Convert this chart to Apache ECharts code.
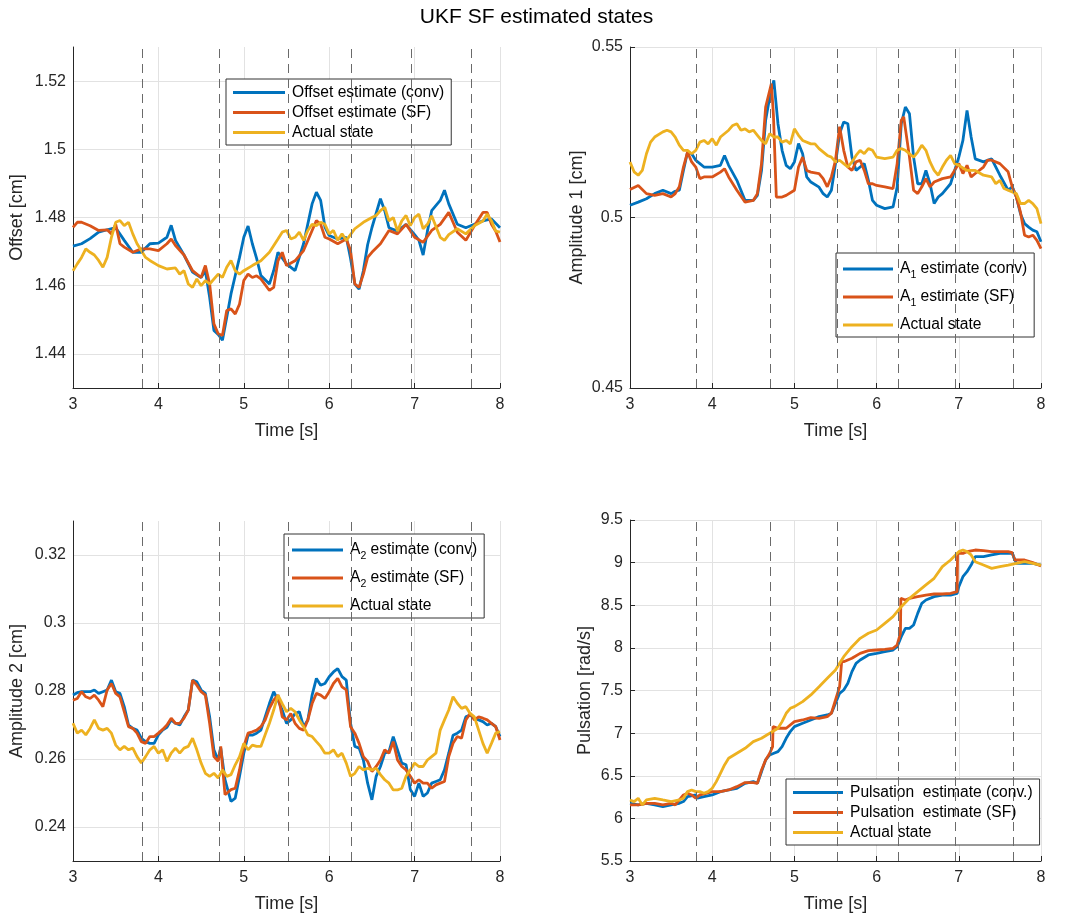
<!DOCTYPE html>
<html>
<head>
<meta charset="utf-8">
<title>UKF SF estimated states</title>
<script src="https://cdn.jsdelivr.net/npm/echarts@6/dist/echarts.min.js"></script>
<style>
  html, body { margin: 0; padding: 0; background: #ffffff; }
  #chart { width: 1073px; height: 920px; }
</style>
</head>
<body>
<div id="chart"></div>
<script>
// ---- time axis --------------------------------------------------------
const timeTicks = [3, 4, 5, 6, 7, 8];
// instants where the switching filter changes model (dashed markers)
const switchTimes = [3.81, 4.705, 5.52, 6.26, 6.96, 7.66];

// ---- Offset [cm] ------------------------------------------------------
const offsetConv = [[3.0,1.4716],[3.1,1.4723],[3.2,1.4738],[3.3,1.4757],[3.4,1.4764],[3.5,1.4770],[3.6,1.4733],[3.7,1.4698],[3.8,1.4698],[3.9,1.4723],[4.0,1.4725],[4.1,1.4742],[4.15,1.4777],[4.2,1.4733],[4.3,1.4690],[4.4,1.4640],[4.5,1.4624],[4.55,1.4644],[4.6,1.4566],[4.65,1.4469],[4.7,1.4457],[4.75,1.4440],[4.8,1.4507],[4.85,1.4576],[4.9,1.4630],[4.95,1.4683],[5.0,1.4742],[5.05,1.4775],[5.1,1.4723],[5.15,1.4680],[5.2,1.4630],[5.3,1.4605],[5.35,1.4644],[5.4,1.4698],[5.5,1.4664],[5.6,1.4644],[5.7,1.4723],[5.8,1.4840],[5.85,1.4874],[5.9,1.4850],[5.95,1.4772],[6.0,1.4747],[6.1,1.4737],[6.2,1.4742],[6.25,1.4680],[6.3,1.4605],[6.35,1.4590],[6.4,1.4644],[6.45,1.4720],[6.5,1.4770],[6.6,1.4855],[6.65,1.4820],[6.7,1.4770],[6.8,1.4760],[6.9,1.4780],[7.0,1.4750],[7.05,1.4734],[7.1,1.4690],[7.15,1.4760],[7.2,1.4820],[7.3,1.4850],[7.35,1.4880],[7.4,1.4840],[7.5,1.4780],[7.6,1.4770],[7.7,1.4780],[7.8,1.4790],[7.9,1.4796],[8.0,1.4770]];
const offsetSF = [[3.0,1.4771],[3.05,1.4786],[3.1,1.4786],[3.2,1.4776],[3.3,1.4762],[3.4,1.4764],[3.45,1.4752],[3.5,1.4780],[3.55,1.4723],[3.6,1.4713],[3.7,1.4698],[3.8,1.4708],[3.9,1.4708],[4.0,1.4703],[4.1,1.4723],[4.15,1.4737],[4.2,1.4718],[4.3,1.4690],[4.4,1.4644],[4.5,1.4624],[4.55,1.4659],[4.6,1.4605],[4.65,1.4488],[4.7,1.4459],[4.75,1.4454],[4.8,1.4527],[4.85,1.4532],[4.9,1.4517],[4.95,1.4546],[5.0,1.4615],[5.05,1.4634],[5.1,1.4624],[5.15,1.4629],[5.2,1.4620],[5.3,1.4586],[5.35,1.4595],[5.4,1.4673],[5.45,1.4698],[5.5,1.4659],[5.6,1.4673],[5.7,1.4703],[5.8,1.4762],[5.85,1.4791],[5.9,1.4780],[5.95,1.4742],[6.0,1.4737],[6.1,1.4723],[6.2,1.4737],[6.25,1.4703],[6.3,1.4605],[6.35,1.4595],[6.4,1.4634],[6.45,1.4683],[6.5,1.4698],[6.6,1.4723],[6.7,1.4762],[6.8,1.4752],[6.9,1.4780],[7.0,1.4742],[7.1,1.4727],[7.2,1.4762],[7.3,1.4780],[7.4,1.4815],[7.45,1.4786],[7.5,1.4757],[7.6,1.4733],[7.7,1.4776],[7.8,1.4815],[7.85,1.4815],[7.9,1.4780],[7.95,1.4760],[8.0,1.4728]];
const offsetActual = [[3.0,1.4644],[3.05,1.4664],[3.1,1.4683],[3.15,1.4708],[3.2,1.4698],[3.25,1.4690],[3.3,1.4674],[3.35,1.4654],[3.4,1.4683],[3.45,1.4742],[3.5,1.4786],[3.55,1.4791],[3.6,1.4776],[3.65,1.4786],[3.7,1.4752],[3.75,1.4723],[3.8,1.4703],[3.85,1.4683],[3.9,1.4674],[4.0,1.4659],[4.1,1.4649],[4.2,1.4652],[4.25,1.4634],[4.3,1.4644],[4.35,1.4605],[4.4,1.4595],[4.45,1.4620],[4.5,1.4600],[4.55,1.4615],[4.6,1.4605],[4.7,1.4634],[4.75,1.4624],[4.8,1.4654],[4.85,1.4674],[4.9,1.4644],[4.95,1.4634],[5.0,1.4644],[5.1,1.4659],[5.2,1.4673],[5.3,1.4698],[5.4,1.4737],[5.45,1.4757],[5.5,1.4762],[5.55,1.4737],[5.6,1.4742],[5.65,1.4757],[5.7,1.4733],[5.75,1.4762],[5.8,1.4780],[5.85,1.4776],[5.9,1.4786],[5.95,1.4780],[6.0,1.4752],[6.05,1.4762],[6.1,1.4733],[6.15,1.4752],[6.2,1.4733],[6.3,1.4767],[6.4,1.4786],[6.5,1.4800],[6.55,1.4806],[6.6,1.4820],[6.65,1.4830],[6.7,1.4790],[6.75,1.4800],[6.8,1.4760],[6.85,1.4790],[6.9,1.4806],[6.95,1.4776],[7.0,1.4800],[7.05,1.4810],[7.1,1.4767],[7.15,1.4780],[7.2,1.4805],[7.3,1.4742],[7.35,1.4733],[7.4,1.4750],[7.5,1.4767],[7.6,1.4752],[7.7,1.4776],[7.8,1.4790],[7.85,1.4810],[7.9,1.4790],[7.95,1.4760],[8.0,1.4757]];

// ---- Amplitude 1 [cm] -------------------------------------------------
const amp1Conv = [[3.0,0.5036],[3.1,0.5045],[3.2,0.5055],[3.3,0.5070],[3.4,0.5080],[3.5,0.5070],[3.55,0.5077],[3.6,0.5080],[3.65,0.5138],[3.7,0.5192],[3.75,0.5187],[3.8,0.5168],[3.85,0.5158],[3.9,0.5148],[4.0,0.5148],[4.1,0.5153],[4.15,0.5182],[4.2,0.5153],[4.3,0.5109],[4.4,0.5050],[4.5,0.5050],[4.55,0.5065],[4.6,0.5138],[4.65,0.5285],[4.7,0.5353],[4.75,0.5402],[4.8,0.5275],[4.85,0.5197],[4.9,0.5153],[4.95,0.5143],[5.0,0.5163],[5.05,0.5217],[5.1,0.5187],[5.15,0.5119],[5.2,0.5104],[5.3,0.5089],[5.35,0.5070],[5.4,0.5060],[5.45,0.5080],[5.5,0.5158],[5.55,0.5246],[5.6,0.5280],[5.65,0.5275],[5.7,0.5177],[5.75,0.5138],[5.8,0.5148],[5.85,0.5158],[5.9,0.5109],[5.95,0.5050],[6.0,0.5036],[6.1,0.5026],[6.2,0.5031],[6.25,0.5089],[6.3,0.5275],[6.35,0.5324],[6.4,0.5304],[6.45,0.5177],[6.5,0.5099],[6.55,0.5099],[6.6,0.5138],[6.65,0.5099],[6.7,0.5041],[6.75,0.5060],[6.8,0.5070],[6.9,0.5099],[7.0,0.5177],[7.05,0.5226],[7.1,0.5314],[7.15,0.5236],[7.2,0.5172],[7.3,0.5163],[7.4,0.5172],[7.5,0.5124],[7.6,0.5080],[7.65,0.5090],[7.7,0.5060],[7.75,0.5011],[7.8,0.4982],[7.85,0.4972],[7.9,0.4963],[7.95,0.4958],[8.0,0.4929]];
const amp1SF = [[3.0,0.5082],[3.1,0.5094],[3.2,0.5070],[3.3,0.5065],[3.4,0.5070],[3.5,0.5060],[3.55,0.5070],[3.6,0.5090],[3.65,0.5148],[3.7,0.5192],[3.75,0.5163],[3.8,0.5148],[3.85,0.5114],[3.9,0.5119],[4.0,0.5119],[4.1,0.5133],[4.15,0.5143],[4.2,0.5119],[4.3,0.5080],[4.4,0.5045],[4.5,0.5050],[4.55,0.5070],[4.6,0.5158],[4.65,0.5324],[4.7,0.5373],[4.72,0.5393],[4.745,0.5300],[4.78,0.5060],[4.85,0.5060],[4.9,0.5065],[5.0,0.5080],[5.05,0.5148],[5.1,0.5177],[5.15,0.5138],[5.2,0.5133],[5.3,0.5129],[5.35,0.5114],[5.4,0.5090],[5.45,0.5119],[5.5,0.5168],[5.55,0.5266],[5.6,0.5197],[5.65,0.5148],[5.7,0.5138],[5.75,0.5163],[5.8,0.5168],[5.85,0.5138],[5.9,0.5099],[5.95,0.5099],[6.0,0.5094],[6.1,0.5090],[6.2,0.5085],[6.25,0.5158],[6.3,0.5285],[6.33,0.5295],[6.4,0.5177],[6.45,0.5080],[6.5,0.5070],[6.55,0.5090],[6.6,0.5114],[6.65,0.5090],[6.7,0.5104],[6.8,0.5114],[6.9,0.5119],[7.0,0.5158],[7.05,0.5129],[7.1,0.5153],[7.15,0.5119],[7.2,0.5129],[7.3,0.5148],[7.35,0.5168],[7.4,0.5168],[7.5,0.5158],[7.6,0.5134],[7.65,0.5090],[7.7,0.5060],[7.75,0.5016],[7.8,0.4948],[7.85,0.4943],[7.9,0.4948],[7.95,0.4933],[8.0,0.4909]];
const amp1Actual = [[3.0,0.5163],[3.05,0.5134],[3.1,0.5124],[3.15,0.5138],[3.2,0.5187],[3.25,0.5221],[3.3,0.5236],[3.4,0.5251],[3.45,0.5256],[3.5,0.5251],[3.55,0.5236],[3.6,0.5212],[3.65,0.5197],[3.7,0.5197],[3.75,0.5187],[3.8,0.5197],[3.85,0.5221],[3.9,0.5226],[3.95,0.5216],[4.0,0.5231],[4.05,0.5212],[4.1,0.5236],[4.2,0.5256],[4.25,0.5270],[4.3,0.5275],[4.35,0.5256],[4.4,0.5260],[4.45,0.5251],[4.5,0.5256],[4.55,0.5241],[4.6,0.5226],[4.65,0.5216],[4.7,0.5246],[4.75,0.5236],[4.8,0.5236],[4.85,0.5221],[4.9,0.5226],[4.95,0.5216],[5.0,0.5260],[5.05,0.5241],[5.1,0.5226],[5.2,0.5216],[5.25,0.5216],[5.3,0.5202],[5.4,0.5182],[5.45,0.5177],[5.5,0.5163],[5.55,0.5168],[5.6,0.5158],[5.65,0.5148],[5.7,0.5163],[5.75,0.5182],[5.8,0.5197],[5.85,0.5187],[5.9,0.5202],[5.95,0.5197],[6.0,0.5177],[6.1,0.5173],[6.2,0.5177],[6.25,0.5197],[6.3,0.5202],[6.35,0.5197],[6.4,0.5187],[6.45,0.5177],[6.5,0.5192],[6.55,0.5212],[6.6,0.5197],[6.65,0.5163],[6.7,0.5138],[6.75,0.5124],[6.8,0.5148],[6.85,0.5168],[6.9,0.5182],[6.95,0.5158],[7.0,0.5153],[7.1,0.5138],[7.2,0.5138],[7.3,0.5124],[7.4,0.5119],[7.45,0.5099],[7.5,0.5109],[7.55,0.5085],[7.6,0.5080],[7.7,0.5070],[7.75,0.5041],[7.8,0.5041],[7.85,0.5050],[7.9,0.5041],[7.95,0.5026],[8.0,0.4982]];

// ---- Amplitude 2 [cm] -------------------------------------------------
const amp2Conv = [[3.0,0.2788],[3.05,0.2795],[3.1,0.2798],[3.2,0.2798],[3.25,0.2803],[3.3,0.2793],[3.35,0.2798],[3.4,0.2803],[3.45,0.2832],[3.5,0.2798],[3.55,0.2793],[3.6,0.2754],[3.65,0.2700],[3.7,0.2690],[3.75,0.2685],[3.8,0.2661],[3.85,0.2651],[3.9,0.2646],[3.95,0.2646],[4.0,0.2671],[4.05,0.2685],[4.1,0.2693],[4.15,0.2715],[4.2,0.2705],[4.25,0.2700],[4.3,0.2724],[4.35,0.2744],[4.4,0.2832],[4.45,0.2827],[4.5,0.2803],[4.55,0.2793],[4.6,0.2724],[4.65,0.2627],[4.7,0.2597],[4.73,0.2632],[4.78,0.2539],[4.85,0.2475],[4.9,0.2485],[4.95,0.2549],[5.0,0.2617],[5.05,0.2670],[5.1,0.2670],[5.15,0.2676],[5.2,0.2685],[5.25,0.2724],[5.3,0.2763],[5.35,0.2798],[5.4,0.2773],[5.45,0.2744],[5.5,0.2705],[5.55,0.2715],[5.6,0.2734],[5.65,0.2739],[5.7,0.2695],[5.75,0.2715],[5.8,0.2788],[5.85,0.2837],[5.9,0.2817],[5.95,0.2822],[6.0,0.2842],[6.05,0.2856],[6.1,0.2866],[6.15,0.2842],[6.2,0.2832],[6.25,0.2705],[6.3,0.2637],[6.35,0.2632],[6.4,0.2597],[6.45,0.2529],[6.5,0.2480],[6.55,0.2549],[6.6,0.2578],[6.65,0.2617],[6.7,0.2622],[6.75,0.2666],[6.8,0.2627],[6.85,0.2588],[6.9,0.2583],[6.95,0.2510],[7.0,0.2490],[7.05,0.2529],[7.1,0.2490],[7.15,0.2500],[7.2,0.2529],[7.25,0.2534],[7.3,0.2539],[7.35,0.2568],[7.4,0.2617],[7.45,0.2670],[7.5,0.2676],[7.55,0.2685],[7.6,0.2724],[7.65,0.2729],[7.7,0.2720],[7.75,0.2715],[7.8,0.2710],[7.85,0.2700],[7.9,0.2705],[7.95,0.2695],[8.0,0.2666]];
const amp2SF = [[3.0,0.2773],[3.05,0.2778],[3.1,0.2798],[3.15,0.2783],[3.2,0.2778],[3.25,0.2788],[3.3,0.2773],[3.35,0.2754],[3.4,0.2803],[3.45,0.2822],[3.5,0.2793],[3.55,0.2783],[3.6,0.2739],[3.65,0.2695],[3.7,0.2690],[3.75,0.2676],[3.8,0.2651],[3.85,0.2646],[3.9,0.2666],[3.95,0.2666],[4.0,0.2676],[4.05,0.2687],[4.1,0.2700],[4.15,0.2720],[4.2,0.2705],[4.25,0.2705],[4.3,0.2720],[4.35,0.2744],[4.4,0.2832],[4.45,0.2817],[4.5,0.2798],[4.55,0.2788],[4.6,0.2705],[4.65,0.2607],[4.7,0.2593],[4.73,0.2637],[4.78,0.2495],[4.85,0.2510],[4.9,0.2514],[4.95,0.2568],[5.0,0.2637],[5.05,0.2676],[5.1,0.2680],[5.15,0.2685],[5.2,0.2695],[5.25,0.2715],[5.3,0.2749],[5.35,0.2773],[5.4,0.2788],[5.45,0.2724],[5.5,0.2715],[5.55,0.2734],[5.6,0.2705],[5.65,0.2690],[5.7,0.2685],[5.75,0.2715],[5.8,0.2763],[5.85,0.2793],[5.9,0.2788],[5.95,0.2778],[6.0,0.2798],[6.05,0.2822],[6.1,0.2837],[6.15,0.2812],[6.2,0.2803],[6.25,0.2695],[6.3,0.2676],[6.35,0.2646],[6.4,0.2607],[6.45,0.2593],[6.5,0.2563],[6.55,0.2578],[6.6,0.2597],[6.65,0.2627],[6.7,0.2617],[6.75,0.2651],[6.8,0.2597],[6.85,0.2578],[6.9,0.2568],[6.95,0.2549],[7.0,0.2529],[7.05,0.2539],[7.1,0.2529],[7.15,0.2529],[7.2,0.2514],[7.25,0.2524],[7.3,0.2529],[7.35,0.2534],[7.4,0.2607],[7.45,0.2646],[7.5,0.2666],[7.55,0.2661],[7.6,0.2715],[7.65,0.2734],[7.7,0.2715],[7.75,0.2724],[7.8,0.2720],[7.85,0.2715],[7.9,0.2705],[7.95,0.2695],[8.0,0.2656]];
const amp2Actual = [[3.0,0.2705],[3.05,0.2676],[3.1,0.2685],[3.15,0.2671],[3.2,0.2690],[3.25,0.2715],[3.3,0.2690],[3.35,0.2685],[3.4,0.2690],[3.45,0.2676],[3.5,0.2641],[3.55,0.2627],[3.6,0.2637],[3.65,0.2627],[3.7,0.2632],[3.75,0.2607],[3.8,0.2588],[3.85,0.2607],[3.9,0.2627],[3.95,0.2637],[4.0,0.2617],[4.05,0.2627],[4.1,0.2593],[4.15,0.2617],[4.2,0.2632],[4.25,0.2617],[4.3,0.2632],[4.35,0.2637],[4.4,0.2661],[4.45,0.2627],[4.5,0.2588],[4.55,0.2558],[4.6,0.2549],[4.65,0.2558],[4.7,0.2544],[4.75,0.2568],[4.8,0.2549],[4.85,0.2554],[4.9,0.2583],[4.95,0.2607],[5.0,0.2646],[5.05,0.2627],[5.1,0.2641],[5.15,0.2637],[5.2,0.2637],[5.25,0.2671],[5.3,0.2705],[5.35,0.2744],[5.4,0.2788],[5.45,0.2763],[5.5,0.2739],[5.55,0.2749],[5.6,0.2739],[5.65,0.2715],[5.7,0.2695],[5.75,0.2671],[5.8,0.2666],[5.85,0.2651],[5.9,0.2637],[5.95,0.2617],[6.0,0.2617],[6.05,0.2627],[6.1,0.2607],[6.15,0.2617],[6.2,0.2588],[6.25,0.2549],[6.3,0.2558],[6.35,0.2578],[6.4,0.2568],[6.45,0.2573],[6.5,0.2568],[6.55,0.2573],[6.6,0.2554],[6.65,0.2539],[6.7,0.2529],[6.75,0.2509],[6.8,0.2509],[6.85,0.2514],[6.9,0.2549],[6.95,0.2568],[7.0,0.2588],[7.05,0.2578],[7.1,0.2578],[7.15,0.2597],[7.2,0.2607],[7.25,0.2617],[7.3,0.2685],[7.35,0.2715],[7.4,0.2744],[7.45,0.2783],[7.5,0.2764],[7.55,0.2749],[7.6,0.2754],[7.65,0.2734],[7.7,0.2724],[7.75,0.2685],[7.8,0.2646],[7.85,0.2617],[7.9,0.2646],[7.95,0.2676],[8.0,0.2681]];

// ---- Pulsation [rad/s] ------------------------------------------------
const pulsConv = [[3.0,6.177],[3.1,6.158],[3.2,6.177],[3.3,6.158],[3.4,6.138],[3.5,6.158],[3.6,6.177],[3.65,6.197],[3.7,6.255],[3.8,6.275],[3.82,6.236],[3.9,6.255],[4.0,6.275],[4.1,6.314],[4.2,6.333],[4.3,6.353],[4.4,6.412],[4.5,6.431],[4.55,6.412],[4.6,6.548],[4.65,6.685],[4.7,6.744],[4.75,6.764],[4.8,6.783],[4.85,6.842],[4.9,6.939],[4.95,7.018],[5.0,7.076],[5.1,7.115],[5.2,7.154],[5.3,7.193],[5.4,7.213],[5.45,7.233],[5.5,7.350],[5.55,7.467],[5.6,7.506],[5.65,7.584],[5.7,7.721],[5.75,7.819],[5.8,7.858],[5.9,7.917],[6.0,7.936],[6.1,7.956],[6.2,7.975],[6.25,8.014],[6.3,8.132],[6.35,8.229],[6.4,8.229],[6.45,8.268],[6.5,8.405],[6.55,8.523],[6.6,8.562],[6.7,8.601],[6.8,8.620],[6.9,8.620],[6.98,8.640],[7.0,8.718],[7.05,8.835],[7.1,8.894],[7.15,8.972],[7.2,9.070],[7.3,9.070],[7.4,9.090],[7.5,9.109],[7.6,9.109],[7.65,9.109],[7.7,8.992],[7.75,8.992],[7.8,8.992],[7.9,8.992],[8.0,8.972]];
const pulsSF = [[3.0,6.158],[3.1,6.158],[3.2,6.177],[3.3,6.177],[3.4,6.158],[3.5,6.177],[3.55,6.158],[3.6,6.216],[3.65,6.275],[3.7,6.294],[3.75,6.275],[3.8,6.236],[3.85,6.275],[3.9,6.286],[4.0,6.314],[4.1,6.314],[4.2,6.333],[4.3,6.372],[4.4,6.420],[4.5,6.420],[4.55,6.412],[4.6,6.568],[4.65,6.685],[4.7,6.764],[4.735,6.842],[4.74,7.076],[4.8,7.057],[4.9,7.057],[5.0,7.135],[5.1,7.154],[5.2,7.182],[5.3,7.174],[5.4,7.193],[5.45,7.233],[5.5,7.389],[5.55,7.545],[5.57,7.565],[5.575,7.838],[5.6,7.838],[5.7,7.878],[5.8,7.936],[5.9,7.967],[6.0,7.975],[6.1,7.983],[6.2,7.995],[6.25,8.034],[6.29,8.171],[6.295,8.581],[6.35,8.562],[6.4,8.581],[6.5,8.601],[6.6,8.620],[6.7,8.632],[6.8,8.632],[6.9,8.640],[6.98,8.660],[6.985,9.109],[7.05,9.109],[7.1,9.129],[7.2,9.148],[7.3,9.140],[7.4,9.129],[7.5,9.129],[7.6,9.129],[7.65,9.117],[7.68,9.031],[7.7,9.031],[7.8,9.031],[7.9,9.000],[8.0,8.961]];
const pulsActual = [[3.0,6.216],[3.05,6.197],[3.1,6.236],[3.15,6.158],[3.2,6.216],[3.3,6.236],[3.4,6.216],[3.5,6.197],[3.6,6.216],[3.65,6.236],[3.7,6.314],[3.75,6.333],[3.8,6.314],[3.85,6.314],[3.9,6.294],[3.95,6.314],[4.0,6.353],[4.05,6.431],[4.1,6.529],[4.15,6.627],[4.2,6.705],[4.3,6.764],[4.4,6.822],[4.5,6.900],[4.6,6.940],[4.7,6.998],[4.8,7.057],[4.85,7.135],[4.9,7.233],[4.95,7.291],[5.0,7.311],[5.1,7.370],[5.2,7.448],[5.3,7.545],[5.4,7.643],[5.5,7.741],[5.55,7.819],[5.6,7.897],[5.7,8.014],[5.8,8.112],[5.9,8.171],[6.0,8.210],[6.1,8.288],[6.2,8.366],[6.3,8.483],[6.4,8.581],[6.5,8.660],[6.6,8.738],[6.7,8.816],[6.8,8.953],[6.9,9.031],[7.0,9.129],[7.05,9.148],[7.1,9.129],[7.15,9.090],[7.2,9.011],[7.3,8.972],[7.4,8.933],[7.5,8.953],[7.6,8.972],[7.7,8.992],[7.8,9.011],[7.9,8.992],[8.0,8.972]];

// ---- styling ----------------------------------------------------------
const FONT = 'Helvetica, "Liberation Sans", Arial, sans-serif';
const AXIS_COLOR = '#262626';
const GRID_COLOR = '#e2e2e2';
const COLORS = { conv: '#0072BD', sf: '#D95319', actual: '#EDB120' };
const LEGEND_FONT = 15.6;

const panels = [
  {
    grid: { left: 73, top: 47, width: 427, height: 341 },
    yName: 'Offset [cm]', yMin: 1.43, yMax: 1.53, yStep: 0.01, labelStep: 0.02, nameGap: 47,
    lines: [['Offset estimate (conv)', offsetConv, COLORS.conv], ['Offset estimate (SF)', offsetSF, COLORS.sf], ['Actual state', offsetActual, COLORS.actual]],
    legend: { left: 226, top: 79, itemWidth: 52, padding: [5, 7, 4, 7], rowHeight: 17, itemGap: 3 }
  },
  {
    grid: { left: 630, top: 47, width: 411, height: 341 },
    yName: 'Amplitude 1 [cm]', yMin: 0.45, yMax: 0.55, yStep: 0.05, labelStep: 0.05, nameGap: 44,
    lines: [['A_1 estimate (conv)', amp1Conv, COLORS.conv], ['A_1 estimate (SF)', amp1SF, COLORS.sf], ['Actual state', amp1Actual, COLORS.actual]],
    legend: { left: 836, top: 253, itemWidth: 50, padding: [8, 7, 4, 7], rowHeight: 24, itemGap: 8 }
  },
  {
    grid: { left: 73, top: 521, width: 427, height: 340 },
    yName: 'Amplitude 2 [cm]', yMin: 0.23, yMax: 0.33, yStep: 0.01, labelStep: 0.02, nameGap: 47,
    lines: [['A_2 estimate (conv)', amp2Conv, COLORS.conv], ['A_2 estimate (SF)', amp2SF, COLORS.sf], ['Actual state', amp2Actual, COLORS.actual]],
    legend: { left: 284, top: 534, itemWidth: 51, padding: [8, 7, 4, 8], rowHeight: 24, itemGap: 8 }
  },
  {
    grid: { left: 630, top: 520, width: 411, height: 341 },
    yName: 'Pulsation [rad/s]', yMin: 5.5, yMax: 9.5, yStep: 0.5, labelStep: 0.5, nameGap: 36,
    lines: [['Pulsation  estimate (conv.)', pulsConv, COLORS.conv], ['Pulsation  estimate (SF)', pulsSF, COLORS.sf], ['Actual state', pulsActual, COLORS.actual]],
    legend: { left: 786, top: 779, itemWidth: 50, padding: [5, 7, 4, 7], rowHeight: 17, itemGap: 3 }
  }
];

function onStep(v, step) {
  const q = v / step;
  return Math.abs(q - Math.round(q)) < 1e-6;
}

function legendLabel(name) {
  const m = name.match(/^A_(\d)(.*)$/);
  if (m) return '{n|A}{s|' + m[1] + '}{n|' + m[2] + '}';
  return '{n|' + name + '}';
}

const option = {
  backgroundColor: '#ffffff',
  animation: false,
  title: {
    text: 'UKF SF estimated states',
    left: 'center',
    top: 2,
    textStyle: { fontFamily: FONT, fontSize: 21, fontWeight: 'normal', color: '#000000' }
  },
  grid: [], xAxis: [], yAxis: [], legend: [], series: []
};

panels.forEach((p, i) => {
  option.grid.push(Object.assign({ containLabel: false }, p.grid));

  option.xAxis.push({
    type: 'value', gridIndex: i, min: timeTicks[0], max: timeTicks[timeTicks.length - 1], interval: 1,
    name: 'Time [s]', nameLocation: 'middle', nameGap: 34,
    nameTextStyle: { fontFamily: FONT, fontSize: 18, color: AXIS_COLOR },
    axisLine: { show: true, onZero: false, lineStyle: { color: AXIS_COLOR, width: 1 } },
    axisTick: { show: true, inside: true, length: 5, lineStyle: { color: AXIS_COLOR } },
    axisLabel: { fontFamily: FONT, fontSize: 16, color: AXIS_COLOR, margin: 9 },
    splitLine: { show: true, lineStyle: { color: GRID_COLOR, width: 1 } }
  });

  const filtered = p.labelStep !== p.yStep;
  option.yAxis.push({
    type: 'value', gridIndex: i, min: p.yMin, max: p.yMax, interval: p.yStep,
    name: p.yName, nameLocation: 'middle', nameGap: p.nameGap, nameRotate: 90,
    nameTextStyle: { fontFamily: FONT, fontSize: 18, color: AXIS_COLOR },
    axisLine: { show: true, onZero: false, lineStyle: { color: AXIS_COLOR, width: 1 } },
    axisTick: { show: !filtered, inside: true, length: 5, lineStyle: { color: AXIS_COLOR } },
    axisLabel: {
      fontFamily: FONT, fontSize: 16, color: AXIS_COLOR, margin: 7,
      formatter: v => onStep(v, p.labelStep) ? String(+v.toFixed(3)) : ''
    },
    splitLine: {
      show: true,
      lineStyle: { color: filtered ? ['rgba(0,0,0,0)', GRID_COLOR] : [GRID_COLOR], width: 1 }
    }
  });

  const lg = p.legend;
  const rich = lg.rowHeight > 20;
  option.legend.push({
    orient: 'vertical',
    left: lg.left, top: lg.top,
    padding: lg.padding,
    itemGap: lg.itemGap,
    itemWidth: lg.itemWidth, itemHeight: 3,
    icon: 'rect',
    backgroundColor: '#ffffff',
    borderColor: '#333333', borderWidth: 1, borderRadius: 0,
    selectedMode: false,
    data: p.lines.map(l => l[0]),
    formatter: rich ? legendLabel : undefined,
    textStyle: rich ? {
      fontFamily: FONT, fontSize: LEGEND_FONT, color: '#000000', padding: [0, 0, 0, 2],
      rich: {
        n: { fontFamily: FONT, fontSize: LEGEND_FONT, color: '#000000', lineHeight: lg.rowHeight },
        s: { fontFamily: FONT, fontSize: 10.5, color: '#000000', lineHeight: 10, verticalAlign: 'bottom' }
      }
    } : { fontFamily: FONT, fontSize: LEGEND_FONT, color: '#000000', lineHeight: lg.rowHeight, padding: [0, 0, 0, 2] }
  });

  // dashed markers at switching instants, drawn underneath the curves
  option.series.push({
    type: 'line', name: '', xAxisIndex: i, yAxisIndex: i, data: [], z: 1, silent: true,
    markLine: {
      silent: true, animation: false, symbol: ['none', 'none'],
      label: { show: false },
      lineStyle: { type: [9, 6], color: '#6a6a6a', width: 1 },
      emphasis: { disabled: true },
      data: switchTimes.map(t => ({ xAxis: t }))
    }
  });

  p.lines.forEach(([name, data, color]) => {
    option.series.push({
      type: 'line', name, xAxisIndex: i, yAxisIndex: i, data,
      showSymbol: false, symbol: 'none', z: 3, silent: true,
      lineStyle: { color, width: 2.8 },
      itemStyle: { color },
      emphasis: { disabled: true }
    });
  });
});

const chart = echarts.init(document.getElementById('chart'), null, { renderer: 'canvas' });
chart.setOption(option);
</script>
</body>
</html>
